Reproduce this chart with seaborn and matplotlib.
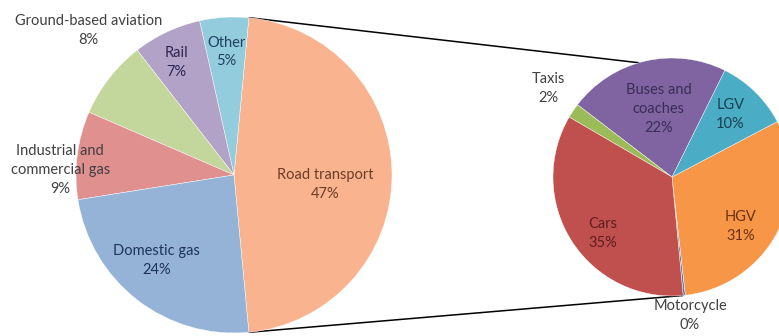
import numpy as np
import matplotlib
matplotlib.use("Agg")
import matplotlib.pyplot as plt
import seaborn as sns

# ---- data ----
main_labels = ["Road transport", "Other", "Rail", "Ground-based aviation",
               "Industrial and\ncommercial gas", "Domestic gas"]
main_values = [47, 5, 7, 8, 9, 24]

sub_labels = ["Motorcycle", "HGV", "LGV", "Buses and\ncoaches", "Taxis", "Cars"]
sub_values = [0.3, 31, 10, 22, 2, 35]

# ---- style ----
main_colors = ["#F9B38E", "#93CDDD", "#B3A2C7", "#C3D69B", "#E0908F", "#95B3D7"]
main_text_colors = ["#6B3F26", "#1F3F5F", "#2E2550", "#404040", "#404040", "#1F3458"]
main_label_r = [0.58, 0.78, 0.80, 1.30, 1.10, 0.73]
main_label_dt = [-6, 0, 2, -7, 5.6, -4.4]

sub_colors = ["#4F81BD", "#F79646", "#4BACC6", "#8064A2", "#9BBB59", "#C0504D"]
sub_text_colors = ["#404040", "#6B3210", "#17414D", "#3A2D55", "#404040", "#5E1E1D"]
sub_label_r = [1.17, 0.71, 0.72, 0.58, 1.28, 0.75]
sub_label_dt = [1.5, -8, 1.4, -1.8, -1.7, 6.6]

sns.set_theme(style="white")
plt.rcParams['font.family'] = ['Lato', 'DejaVu Sans']

W, H = 779, 336
fig = plt.figure(figsize=(W / 100, H / 100), dpi=100)
ax = fig.add_axes([0, 0, 1, 1])

c1, r1 = (234, H - 175), 158
c2, r2 = (672, H - 177), 119

start1 = -(main_values[0] / sum(main_values) * 360) / 2
w1, _ = ax.pie(main_values, colors=main_colors, startangle=start1, counterclock=True,
               center=c1, radius=r1, wedgeprops=dict(edgecolor="white", linewidth=0.3))
start2 = start1
w2, _ = ax.pie(sub_values, colors=sub_colors, startangle=start2, counterclock=True,
               center=c2, radius=r2, wedgeprops=dict(edgecolor="white", linewidth=0.3))


def place(wedges, labels, values, rs, dts, tcols, c, r):
    tot = sum(values)
    for w, lab, v, rf, dt, tc in zip(wedges, labels, values, rs, dts, tcols):
        mid = np.deg2rad((w.theta1 + w.theta2) / 2 + dt)
        x = c[0] + rf * r * np.cos(mid)
        y = c[1] + rf * r * np.sin(mid)
        pct = round(v / tot * 100) if v >= 1 else 0
        ax.text(x, y, f"{lab}\n{pct}%", ha="center", va="center", fontsize=10.5,
                color=tc, linespacing=1.45)


place(w1, main_labels, main_values, main_label_r, main_label_dt, main_text_colors, c1, r1)
place(w2, sub_labels, sub_values, sub_label_r, sub_label_dt, sub_text_colors, c2, r2)

# connector lines from the split wedge edges to the secondary pie
road = w1[0]
a_top, a_bot = np.deg2rad(road.theta2), np.deg2rad(road.theta1)
b_top, b_bot = np.deg2rad(180 - road.theta2 + 10.8), np.deg2rad(w2[0].theta1)
ax.plot([c1[0] + r1 * np.cos(a_top), c2[0] + r2 * np.cos(b_top)],
        [c1[1] + r1 * np.sin(a_top), c2[1] + r2 * np.sin(b_top)],
        color="black", lw=1.1, zorder=0)
ax.plot([c1[0] + r1 * np.cos(a_bot), c2[0] + r2 * np.cos(b_bot)],
        [c1[1] + r1 * np.sin(a_bot), c2[1] + r2 * np.sin(b_bot)],
        color="black", lw=1.1, zorder=0)

ax.set_xlim(0, W)
ax.set_ylim(0, H)
ax.set_aspect("equal")
ax.axis("off")
fig.savefig("out.png", dpi=100, facecolor="white")
